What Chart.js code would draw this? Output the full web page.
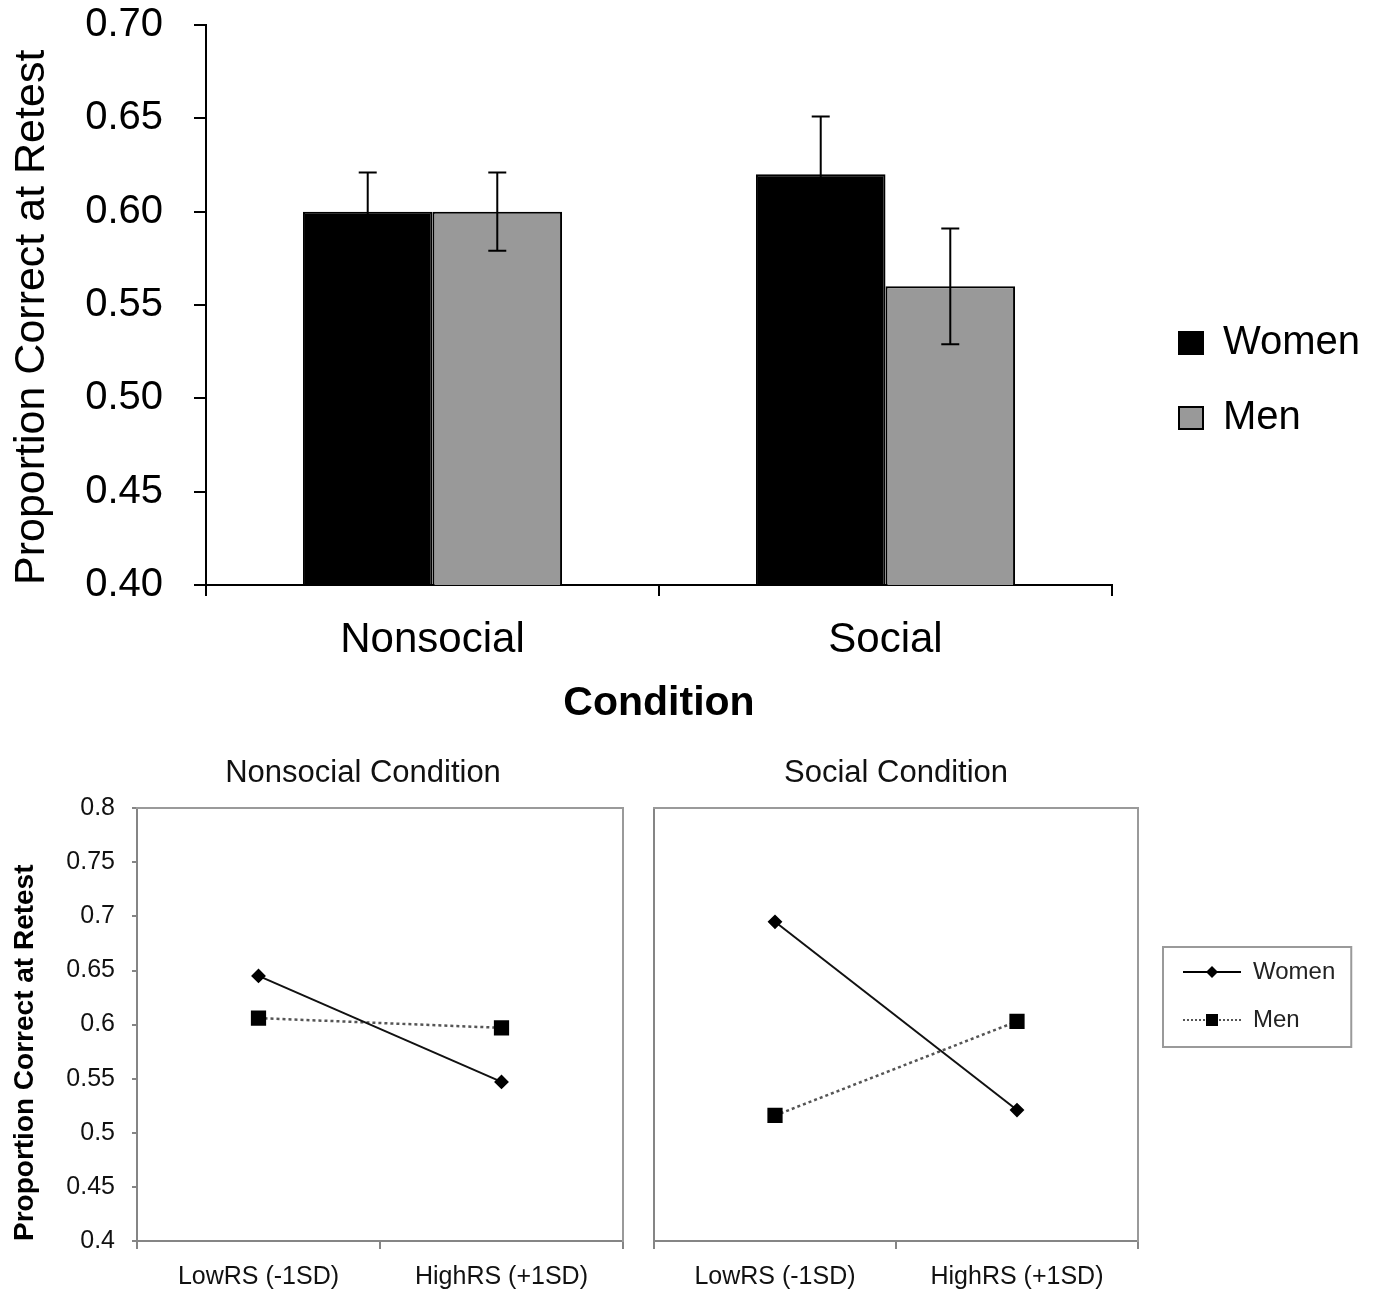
<!DOCTYPE html>
<html>
<head>
<title>Proportion correct at retest</title>
<script src="https://cdn.jsdelivr.net/npm/chart.js"></script>
<style>
  body { margin: 0; background: #fff; }
  canvas { position: absolute; }
</style>
</head>
<body>
<canvas id="barChart" width="1374" height="736" style="left:0px;top:0px"></canvas>
<canvas id="nonsocialChart" width="726" height="604" style="left:0px;top:694px"></canvas>
<canvas id="socialChart" width="734" height="604" style="left:640px;top:694px"></canvas>

<script>
  // top panel: means and error bars by condition
  var conditions = ['Nonsocial', 'Social'];
  var womenMeans = [0.60, 0.62];
  var menMeans = [0.60, 0.56];
  var womenErr = [0.021, 0.031];
  var menErr = [0.021, 0.031];

  // bottom panels: simple slopes at low / high RS
  var rsLevels = ['LowRS (-1SD)', 'HighRS (+1SD)'];
  var nonsocialWomen = [0.645, 0.547];
  var nonsocialMen = [0.606, 0.597];
  var socialWomen = [0.695, 0.521];
  var socialMen = [0.516, 0.603];

  Chart.defaults.font.family = "'Liberation Sans', Arial, sans-serif";
  Chart.defaults.color = '#000';

  var gray = '#858585';

  // draws the error bars on top of each bar
  var errorBars = {
    id: 'errorBars',
    afterDatasetsDraw: function (chart) {
      var ctx = chart.ctx;
      var y = chart.scales.y;
      chart.data.datasets.forEach(function (ds, i) {
        var meta = chart.getDatasetMeta(i);
        meta.data.forEach(function (bar, j) {
          var top = y.getPixelForValue(ds.data[j] + ds.errors[j]);
          var bot = y.getPixelForValue(ds.data[j] - ds.errors[j]);
          ctx.save();
          ctx.strokeStyle = '#000';
          ctx.lineWidth = 2;
          ctx.beginPath();
          ctx.moveTo(bar.x, top); ctx.lineTo(bar.x, bot);
          ctx.moveTo(bar.x - 9, top); ctx.lineTo(bar.x + 9, top);
          ctx.moveTo(bar.x - 9, bot); ctx.lineTo(bar.x + 9, bot);
          ctx.stroke();
          ctx.restore();
        });
      });
    }
  };

  // thin frame round the line-chart legend
  var legendFrame = {
    id: 'legendFrame',
    afterDraw: function (chart) {
      var boxes = chart.legend && chart.legend.legendHitBoxes;
      if (!chart.options.plugins.legend.display || !boxes || !boxes.length) return;
      var l = boxes[0].left - 20, t = boxes[0].top - 13;
      var r = Math.max.apply(null, boxes.map(function (b) { return b.left + b.width; })) + 16;
      var last = boxes[boxes.length - 1];
      var b = last.top + last.height + 15;
      var ctx = chart.ctx;
      ctx.save();
      ctx.strokeStyle = '#9a9a9a';
      ctx.lineWidth = 2;
      ctx.strokeRect(l, t, r - l, b - t);
      ctx.restore();
    }
  };

  new Chart(document.getElementById('barChart'), {
    type: 'bar',
    data: {
      labels: conditions,
      datasets: [
        { label: 'Women', data: womenMeans, errors: womenErr, backgroundColor: '#000', borderColor: '#000', borderWidth: 2 },
        { label: 'Men', data: menMeans, errors: menErr, backgroundColor: '#999999', borderColor: '#000', borderWidth: 2 }
      ]
    },
    options: {
      responsive: false,
      animation: false,
      layout: { padding: { top: 25, right: 10, bottom: 0, left: 0 } },
      datasets: { bar: { categoryPercentage: 0.572, barPercentage: 1 } },
      plugins: {
        legend: {
          position: 'right',
          maxWidth: 220,
          labels: { boxWidth: 24, boxHeight: 22, padding: 35, font: { size: 40 }, color: '#000' }
        },
        tooltip: { enabled: false }
      },
      scales: {
        x: {
          grid: { drawOnChartArea: false, offset: true, tickLength: 11, color: '#000', lineWidth: 2 },
          border: { color: '#000', width: 2 },
          ticks: { font: { size: 42 }, padding: 19 },
          title: { display: true, text: 'Condition', font: { size: 41, weight: 'bold' }, padding: { top: 0, bottom: 8 } },
          afterFit: function (s) { s.height = 151; }
        },
        y: {
          min: 0.4,
          max: 0.7,
          ticks: { stepSize: 0.05, font: { size: 40 }, padding: 31, callback: function (v) { return v.toFixed(2); } },
          grid: { drawOnChartArea: false, tickLength: 12, color: '#000', lineWidth: 2 },
          border: { color: '#000', width: 2 },
          title: { display: true, text: 'Proportion Correct at Retest', align: 'start', font: { size: 43 }, padding: { top: 6 } },
          afterFit: function (s) { s.width = 206; s.paddingTop = 0; s.paddingBottom = 0; }
        },
        gap: {
          type: 'linear', position: 'right',
          grid: { display: false }, ticks: { display: false }, border: { display: false },
          afterFit: function (s) { s.width = 32; }
        }
      }
    },
    plugins: [errorBars]
  });

  // legend symbols: line with marker
  function legendMark(dotted, square) {
    var c = document.createElement('canvas');
    c.width = 58; c.height = 14;
    var g = c.getContext('2d');
    g.strokeStyle = dotted ? '#555' : '#000';
    g.lineWidth = 2;
    if (dotted) g.setLineDash([2, 2]);
    g.beginPath(); g.moveTo(0, 7); g.lineTo(58, 7); g.stroke();
    g.fillStyle = '#000';
    g.beginPath();
    if (square) {
      g.rect(23, 1, 12, 12);
    } else {
      g.moveTo(29, 1); g.lineTo(35, 7); g.lineTo(29, 13); g.lineTo(23, 7); g.closePath();
    }
    g.fill();
    return c;
  }
  var womenMark = legendMark(false, false);
  var menMark = legendMark(true, true);

  function slopeChart(id, title, women, men, first) {
    return new Chart(document.getElementById(id), {
      type: 'line',
      data: {
        labels: rsLevels,
        datasets: [
          {
            label: 'Women', data: women, borderColor: '#111', borderWidth: 2,
            pointStyle: 'rectRot', pointRadius: 6, pointBackgroundColor: '#000', pointBorderColor: '#000'
          },
          {
            label: 'Men', data: men, borderColor: '#555', borderWidth: 2.5, borderDash: [3, 3],
            pointStyle: 'rect', pointRadius: 9, pointBackgroundColor: '#000', pointBorderColor: '#000'
          }
        ]
      },
      options: {
        responsive: false,
        animation: false,
        layout: { padding: { top: 0, right: first ? 0 : 35, bottom: 0, left: 0 } },
        plugins: {
          title: {
            display: true, text: title, fullSize: first,
            font: { size: 31, weight: 'normal' }, color: '#111',
            padding: { top: 61, bottom: 16 }
          },
          legend: {
            display: !first,
            position: 'right',
            maxWidth: 180,
            labels: {
              usePointStyle: true, pointStyleWidth: 58, padding: 24,
              font: { size: 24 }, color: '#222',
              generateLabels: function (chart) {
                var items = Chart.defaults.plugins.legend.labels.generateLabels(chart);
                items[0].pointStyle = womenMark;
                items[1].pointStyle = menMark;
                return items;
              }
            }
          },
          tooltip: { enabled: false }
        },
        scales: {
          x: {
            offset: true,
            grid: { drawOnChartArea: false, offset: true, tickLength: 8, color: gray, lineWidth: 2 },
            border: { color: gray, width: 2 },
            ticks: { font: { size: 25 }, padding: 13, color: '#111' },
            afterFit: function (s) { s.height = 57; }
          },
          y: {
            min: 0.4,
            max: 0.8,
            ticks: {
              display: first, stepSize: 0.05, font: { size: 25 }, padding: 17, color: '#111',
              callback: function (v) { return String(+v.toFixed(2)); }
            },
            grid: { display: first, drawOnChartArea: false, tickLength: 5, color: gray, lineWidth: 2 },
            border: { color: gray, width: 2 },
            title: { display: first, text: 'Proportion Correct at Retest', align: 'start', font: { size: 28, weight: 'bold' }, padding: { top: 8 } },
            afterFit: function (s) { s.width = first ? 137 : 14; }
          },
          frameTop: {
            type: 'linear', position: 'top',
            grid: { display: false }, ticks: { display: false },
            border: { display: true, color: '#9a9a9a', width: 2 },
            afterFit: function (s) { s.height = 0; }
          },
          frameRight: {
            type: 'linear', position: 'right',
            grid: { display: false }, ticks: { display: false },
            border: { display: true, color: '#9a9a9a', width: 2 },
            afterFit: function (s) { s.width = first ? 103 : 21; }
          }
        }
      },
      plugins: [legendFrame]
    });
  }

  slopeChart('nonsocialChart', 'Nonsocial Condition', nonsocialWomen, nonsocialMen, true);
  slopeChart('socialChart', 'Social Condition', socialWomen, socialMen, false);
</script>
</body>
</html>
